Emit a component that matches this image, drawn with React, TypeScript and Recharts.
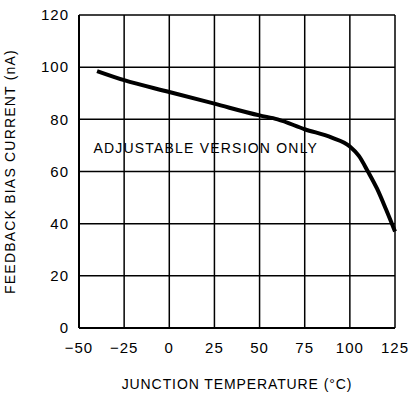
import { LineChart, Line, XAxis, YAxis, CartesianGrid, ReferenceDot } from 'recharts';

// junction temperature (°C) vs feedback bias current (nA)
const temps = [-40, -25, 0, 25, 50, 60, 75, 90, 100, 105, 110, 115, 120, 125];
const biasCurrent = [98.5, 95, 90.5, 86, 81.5, 80, 76.2, 73, 69.6, 66, 60, 53.5, 45.5, 37];

const xTicks = [-50, -25, 0, 25, 50, 75, 100, 125];
const yTicks = [0, 20, 40, 60, 80, 100, 120];

const note = 'ADJUSTABLE VERSION ONLY';

const data = temps.map((t, i) => ({ temp: t, current: biasCurrent[i] }));

const font = "'Liberation Sans', Arial, sans-serif";
const fmt = (v: number) => (v < 0 ? '\u2212' + Math.abs(v) : String(v));

export default function App() {
  return (
    <div style={{ position: 'absolute', left: 0, top: 0, width: 411, height: 398, background: '#fff' }}>
      <LineChart
        width={411}
        height={398}
        data={data}
        margin={{ top: 15, right: 16, bottom: 0, left: 0 }}
        style={{ fontFamily: font }}
      >
        <CartesianGrid stroke="#000" strokeWidth={1.5} />
        <XAxis
          dataKey="temp"
          type="number"
          domain={[-50, 125]}
          ticks={xTicks}
          tickFormatter={fmt}
          height={70}
          stroke="#000"
          strokeWidth={2}
          tickLine={false}
          tickSize={0}
          tickMargin={14}
          tick={{ fill: '#000', fontSize: 15, fontFamily: font, letterSpacing: 1 }}
          label={{
            value: 'JUNCTION TEMPERATURE (\u00B0C)',
            position: 'insideBottom',
            offset: 9,
            fill: '#000',
            fontSize: 14,
            fontFamily: font,
            letterSpacing: 0.9,
          }}
        />
        <YAxis
          type="number"
          domain={[0, 120]}
          ticks={yTicks}
          width={79}
          stroke="#000"
          strokeWidth={2}
          tickLine={false}
          tickSize={0}
          tickMargin={10}
          tick={{ fill: '#000', fontSize: 15, fontFamily: font, letterSpacing: 1 }}
          label={{
            value: 'FEEDBACK BIAS CURRENT (nA)',
            angle: -90,
            position: 'insideLeft',
            offset: 10,
            style: { textAnchor: 'middle' },
            fill: '#000',
            fontSize: 14,
            fontFamily: font,
            letterSpacing: 1.2,
          }}
        />
        <ReferenceDot
          x={-42}
          y={69}
          r={0}
          label={{
            value: note,
            position: 'right',
            offset: 0,
            fill: '#000',
            fontSize: 14,
            fontFamily: font,
            letterSpacing: 1.2,
          }}
        />
        <Line
          type="monotone"
          dataKey="current"
          stroke="#000"
          strokeWidth={4}
          dot={false}
          isAnimationActive={false}
        />
      </LineChart>
    </div>
  );
}
